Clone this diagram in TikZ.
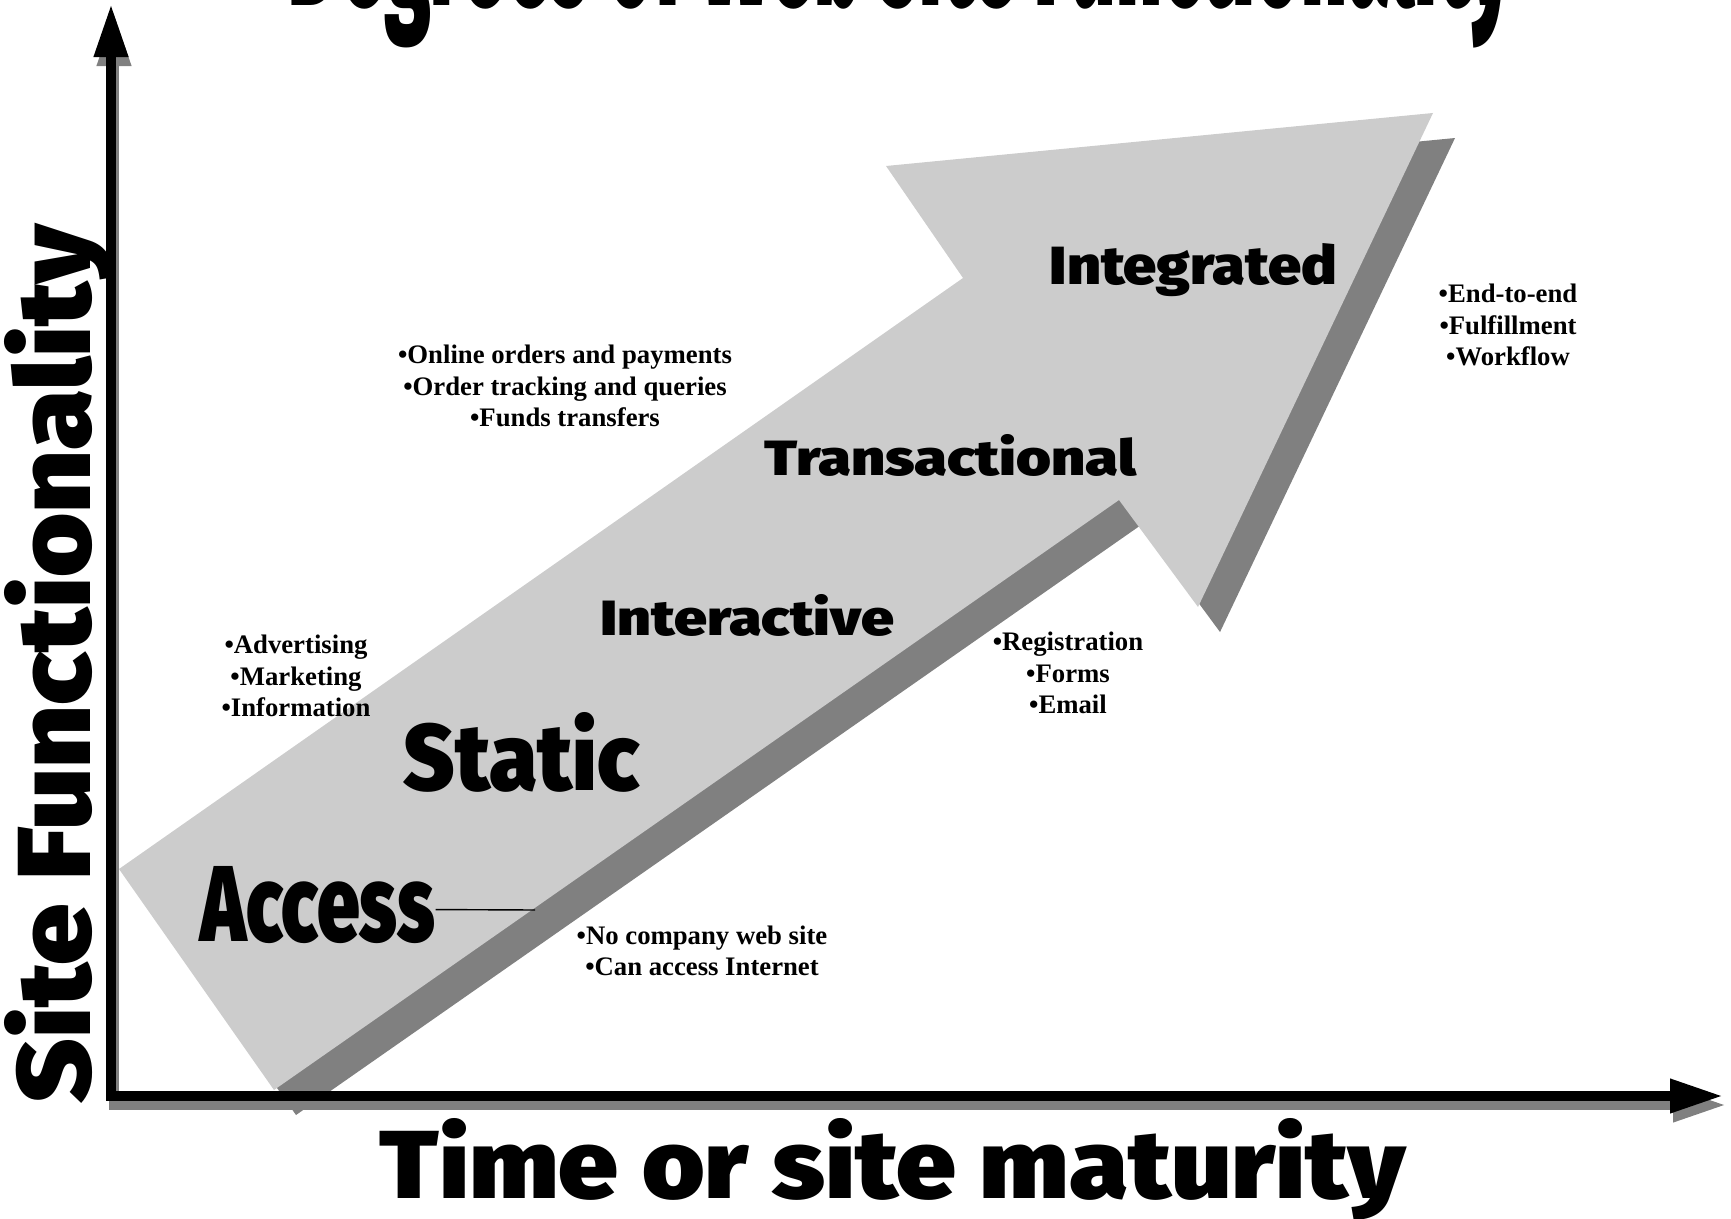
\documentclass[tikz,border=0pt]{standalone}
\usepackage{fontspec}
\setmainfont{Liberation Serif}
\newfontfamily\heavy{Fira Sans Black}
\usetikzlibrary{arrows.meta}

\definecolor{arrowgray}{HTML}{CCCCCC}
\definecolor{shadegray}{HTML}{808080}

\newcommand{\fitlabel}[3]{\resizebox{#1}{#2}{\heavy #3}}

\tikzset{
  axisline/.style={line width=1mm, line join=miter,
    {Triangle[length=5.3mm,width=3.2mm]}-{Triangle[length=5.3mm,width=3.2mm]}},
  stage/.style={inner sep=0pt, anchor=base west},
  bullets/.style={align=center, inner sep=0pt,
    font=\fontsize{7.6}{8.9}\selectfont\bfseries},
}

\begin{document}
\begin{tikzpicture}[x=0.01cm, y=-0.01cm]
        \useasboundingbox (0,0) rectangle (1731,1219);

        \coordinate (tailT) at (119,869);
        \coordinate (tailB) at (274,1090);
        \coordinate (notchB) at (1119,500);
        \coordinate (tip) at (1198,607);
        \coordinate (headR) at (1433,113);
        \coordinate (headL) at (886,166);
        \coordinate (notchT) at (963,278);

        \fill[shadegray, transform canvas={xshift=2.2mm, yshift=-2.5mm}]
          (tailT) -- (tailB) -- (notchB) -- (tip) -- (headR) -- (headL) -- (notchT) -- cycle;
        \fill[arrowgray]
          (tailT) -- (tailB) -- (notchB) -- (tip) -- (headR) -- (headL) -- (notchT) -- cycle;

        \coordinate (origin) at (111,1096);
        \coordinate (ytop) at (111,4);
        \coordinate (xend) at (1723,1096);

        \draw[axisline, shadegray, transform canvas={xshift=0.3mm, yshift=-0.9mm}] (ytop) -- (origin) -- (xend);
        \draw[axisline] (ytop) -- (origin) -- (xend);

        \node[stage] (integrated) at (1049,285) {\fitlabel{2.87cm}{0.41cm}{Integrated}};
        \node[stage] (transactional) at (764,476) {\fitlabel{3.71cm}{0.41cm}{Transactional}};
        \node[stage] (interactive) at (600,636) {\fitlabel{2.93cm}{0.41cm}{Interactive}};
        \node[stage] (static) at (403,790) {\fitlabel{2.35cm}{0.78cm}{Static}};
        \node[stage] (access) at (200,941) {\fitlabel{2.34cm}{0.75cm}{Access}};

        \coordinate (accessend) at (535,910);
        \draw[line width=0.4pt] ([yshift=-0.5mm]access.east) -- (accessend);

        \node[bullets] (accessnotes) at (702,951) {•No company web site\\•Can access Internet};
        \node[bullets] (staticnotes) at (296,676) {•Advertising\\•Marketing\\•Information};
        \node[bullets] (interactivenotes) at (1068,673) {•Registration\\•Forms\\•Email};
        \node[bullets] (transnotes) at (565,386) {•Online orders and payments\\•Order tracking and queries\\•Funds transfers};
        \node[bullets] (integratednotes) at (1508,325) {•End-to-end\\•Fulfillment\\•Workflow};

        \node[stage] (timelabel) at (379,1198) {\fitlabel{10.25cm}{0.80cm}{Time or site maturity}};
        \node[stage, rotate=90] (sitelabel) at (90,1104) {\fitlabel{8.78cm}{0.86cm}{Site Functionality}};
        \node[anchor=base, inner sep=0pt] (title) at (900,6) {\fitlabel{12.23cm}{1.55cm}{Degrees of Web site Functionality}};
      \end{tikzpicture}
\end{document}
